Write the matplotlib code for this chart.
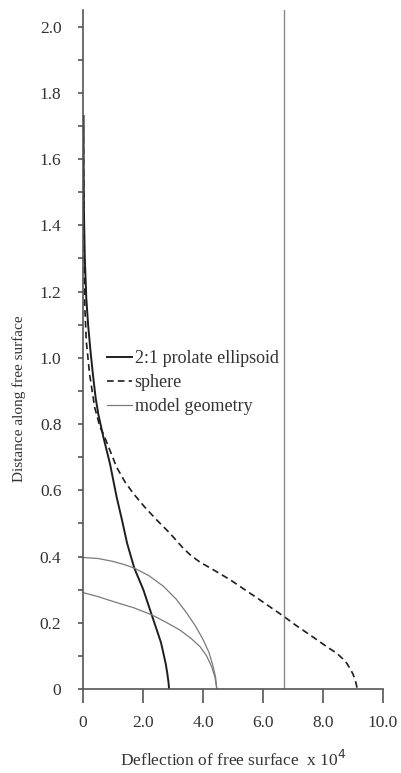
import matplotlib
matplotlib.use('Agg')
import matplotlib.pyplot as plt
from matplotlib.ticker import MultipleLocator

plt.rcParams['font.family'] = ['Liberation Serif', 'DejaVu Serif']

# 2:1 prolate ellipsoid (deflection x 10^4, distance)
prolate_x = [0.02, 0.02, 0.03, 0.06, 0.11, 0.17, 0.25, 0.33, 0.42, 0.51, 0.68,
             0.90, 1.12, 1.30, 1.47, 1.71, 2.01, 2.29, 2.46, 2.60, 2.68, 2.76,
             2.81, 2.85, 2.87]
prolate_y = [1.73, 1.60, 1.45, 1.30, 1.18, 1.10, 1.02, 0.95, 0.88, 0.83, 0.76,
             0.68, 0.58, 0.51, 0.44, 0.365, 0.30, 0.224, 0.178, 0.14, 0.108, 0.075,
             0.047, 0.02, 0.0]

# sphere
sphere_x = [0.01, 0.02, 0.03, 0.06, 0.11, 0.22, 0.39, 0.57, 0.68, 0.90, 1.12,
            1.40, 1.68, 2.05, 2.46, 2.90, 3.34, 3.60, 3.75, 3.90, 4.40, 4.90, 5.80,
            6.68, 7.10, 7.57, 8.12, 8.46, 8.65, 8.79, 8.90, 9.00, 9.08, 9.12, 9.14]
sphere_y = [1.70, 1.55, 1.40, 1.155, 1.05, 0.95, 0.85, 0.79, 0.77, 0.72, 0.67,
            0.625, 0.59, 0.55, 0.51, 0.47, 0.425, 0.403, 0.393, 0.383, 0.357, 0.33, 0.275,
            0.22, 0.192, 0.163, 0.128, 0.108, 0.092, 0.078, 0.062, 0.045, 0.025, 0.01, 0.0]

# model geometry (two outlines)
geom_outer_x = [0.0, 0.5, 1.01, 1.4, 1.71, 2.2, 2.68, 3.1, 3.46, 3.75, 4.01,
                4.2, 4.34, 4.42, 4.46]
geom_outer_y = [0.397, 0.394, 0.385, 0.375, 0.365, 0.342, 0.31, 0.272, 0.229,
                0.19, 0.148, 0.11, 0.067, 0.035, 0.0]
geom_inner_x = [0.0, 0.5, 1.01, 1.7, 2.29, 2.8, 3.23, 3.6, 3.9, 4.12, 4.29,
                4.4, 4.46]
geom_inner_y = [0.291, 0.279, 0.264, 0.245, 0.224, 0.2, 0.178, 0.153, 0.128,
                0.1, 0.067, 0.035, 0.0]

vline_x = 6.7

x_ticks = [0, 2, 4, 6, 8, 10]
x_labels = ['0', '2.0', '4.0', '6.0', '8.0', '10.0']
y_ticks = [0, 0.2, 0.4, 0.6, 0.8, 1.0, 1.2, 1.4, 1.6, 1.8, 2.0]
y_labels = ['0', '0.2', '0.4', '0.6', '0.8', '1.0', '1.2', '1.4', '1.6', '1.8', '2.0']

fig = plt.figure(figsize=(4.01, 7.73), dpi=100)
ax = fig.add_axes([83 / 401, 84 / 773, 300 / 401, 679 / 773])

ax.plot(prolate_x, prolate_y, color='#1e1e1e', lw=1.4, label='2:1 prolate ellipsoid')
ax.plot(sphere_x, sphere_y, color='#1e1e1e', lw=1.2, ls=(0, (4, 2.5)), label='sphere')
ax.plot(geom_outer_x, geom_outer_y, color='#7a7a7a', lw=0.9, label='model geometry')
ax.plot(geom_inner_x, geom_inner_y, color='#7a7a7a', lw=0.9)
ax.axvline(vline_x, color='#8a8a8a', lw=1.0)

ax.set_xlim(0, 10)
ax.set_ylim(0, 2.05)
ax.set_xticks(x_ticks)
ax.set_xticklabels(x_labels)
ax.set_yticks(y_ticks)
ax.set_yticklabels(y_labels)
ax.yaxis.set_minor_locator(MultipleLocator(0.1))

for s in ['top', 'right']:
    ax.spines[s].set_visible(False)
for s in ['left', 'bottom']:
    ax.spines[s].set_color('#555555')
    ax.spines[s].set_linewidth(1.2)

fs = 12.5
ax.tick_params(axis='x', direction='out', length=10, width=1.2, color='#555555',
               pad=9, labelsize=fs, labelcolor='#333333')
ax.tick_params(axis='y', which='both', direction='out', length=3.5, width=1.2,
               color='#555555', pad=12, labelsize=fs, labelcolor='#333333')

ax.set_xlabel('Deflection of free surface  x 10$^4$', fontsize=fs, color='#333333',
              labelpad=13)
ax.set_ylabel('Distance along free surface', fontsize=11, color='#333333')
ax.yaxis.set_label_coords(-0.19, 0.428)

ax.legend(loc='upper left', bbox_to_anchor=(0.055, 0.51), frameon=False,
          fontsize=13, handlelength=1.4, handletextpad=0.15, labelspacing=0.4,
          borderaxespad=0, labelcolor='#333333')

fig.savefig('out.png', dpi=100)
